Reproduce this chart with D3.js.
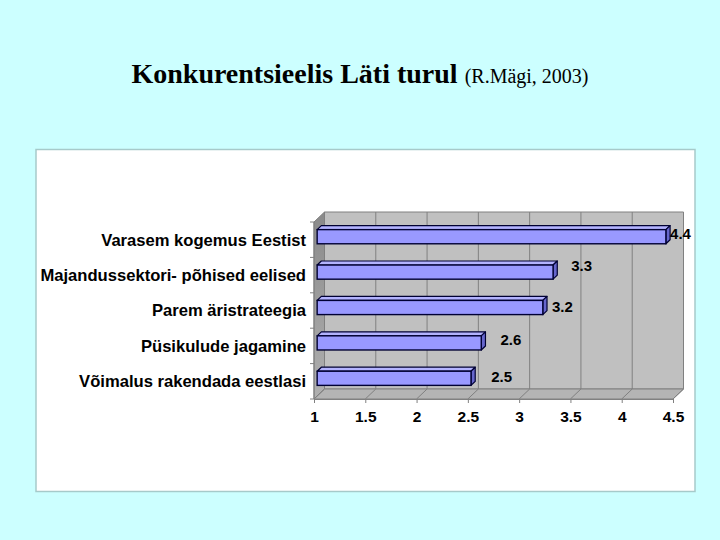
<!DOCTYPE html>
<html><head><meta charset="utf-8">
<script src="https://cdn.jsdelivr.net/npm/d3@7"></script>
<style>
html,body{margin:0;padding:0;background:#CCFFFF;}
svg{display:block;}
</style></head>
<body>
<script>
const categories = ["Varasem kogemus Eestist","Majandussektori- põhised eelised","Parem äristrateegia","Püsikulude jagamine","Võimalus rakendada eestlasi"];
const values = [4.4, 3.3, 3.2, 2.6, 2.5];
const valueLabels = ["4.4","3.3","3.2","2.6","2.5"];
const xTicks = [1, 1.5, 2, 2.5, 3, 3.5, 4, 4.5];
const titleMain = "Konkurentsieelis Läti turul";
const titleSub = "(R.Mägi, 2003)";

const W = 720, H = 540;
const svg = d3.select("body").append("svg").attr("width", W).attr("height", H);
svg.append("rect").attr("width", W).attr("height", H).attr("fill", "#CCFFFF");

// title
const t = svg.append("text").attr("x", 360).attr("y", 83).attr("text-anchor", "middle")
  .attr("font-family", "'Liberation Serif','Times New Roman',serif").attr("fill", "#000");
t.append("tspan").attr("font-size", 28).attr("font-weight", "bold").text(titleMain + " ");
t.append("tspan").attr("font-size", 20).text(titleSub);

// chart frame
svg.append("rect").attr("x", 36).attr("y", 149.5).attr("width", 659).attr("height", 342)
  .attr("fill", "#fff").attr("stroke", "#A6CACA").attr("stroke-width", 1.5);

const x = d3.scaleLinear().domain([1, 4.5]).range([314, 673]);
const y = d3.scaleBand().domain(categories).range([222, 399]).paddingInner(0.6).paddingOuter(0.3);
const band = d3.scaleBand().domain(categories).range([222, 399]);
const DX = 10.5, DY = -10;
const x0 = x.range()[0], x1 = x.range()[1], yTop = 222, yBot = 399;
const pts = a => a.map(p => p.join(",")).join(" ");

const defs = svg.append("defs");
const lg = defs.append("linearGradient").attr("id", "lw").attr("x1", 0).attr("x2", 0).attr("y1", 0).attr("y2", 1);
lg.append("stop").attr("offset", 0).attr("stop-color", "#8a8a8a");
lg.append("stop").attr("offset", 1).attr("stop-color", "#b0b0b0");

// back wall
svg.append("polygon").attr("points", pts([[x0+DX,yTop+DY],[x1+DX,yTop+DY],[x1+DX,yBot+DY],[x0+DX,yBot+DY]]))
  .attr("fill", "#C0C0C0").attr("stroke", "#808080").attr("stroke-width", 1);
// left wall
svg.append("polygon").attr("points", pts([[x0,yTop],[x0+DX,yTop+DY],[x0+DX,yBot+DY],[x0,yBot]]))
  .attr("fill", "url(#lw)").attr("stroke", "#808080").attr("stroke-width", 1);
// floor
svg.append("polygon").attr("points", pts([[x0,yBot],[x1,yBot],[x1+DX,yBot+DY],[x0+DX,yBot+DY]]))
  .attr("fill", "#B4B4B4").attr("stroke", "#808080").attr("stroke-width", 1);

// gridlines on back wall and floor
xTicks.forEach(v => {
  svg.append("line").attr("x1", x(v)+DX).attr("x2", x(v)+DX).attr("y1", yTop+DY).attr("y2", yBot+DY)
    .attr("stroke", "#808080").attr("stroke-width", 1);
  svg.append("line").attr("x1", x(v)).attr("x2", x(v)+DX).attr("y1", yBot).attr("y2", yBot+DY)
    .attr("stroke", "#808080").attr("stroke-width", 1);
});

// x axis
const xAxis = svg.append("g").attr("transform", `translate(0,${yBot})`)
  .call(d3.axisBottom(x).tickValues(xTicks).tickFormat(d3.format("")).tickSize(4).tickPadding(8));
xAxis.select(".domain").attr("stroke", "#808080");
xAxis.selectAll(".tick line").attr("stroke", "#808080");
xAxis.selectAll("text").attr("font-family", "'Liberation Sans',Arial,sans-serif").attr("font-weight", "bold")
  .attr("font-size", 15.5).attr("fill", "#000");

// y axis ticks (band boundaries)
const bounds = categories.map(c => band(c)).concat([yBot]);
bounds.forEach(b => {
  svg.append("line").attr("x1", x0-4).attr("x2", x0).attr("y1", b).attr("y2", b).attr("stroke", "#808080");
});
svg.append("line").attr("x1", x0).attr("x2", x0).attr("y1", yTop).attr("y2", yBot).attr("stroke", "#808080");

// category labels
svg.append("g").selectAll("text").data(categories).join("text")
  .attr("x", 306).attr("y", d => band(d) + band.bandwidth()/2).attr("dy", "0.35em")
  .attr("text-anchor", "end").attr("font-family", "'Liberation Sans',Arial,sans-serif")
  .attr("font-weight", "bold").attr("font-size", 16.6).attr("fill", "#000").text(d => d);

// bars (3D)
const f1 = 0.3, f2 = 0.7;
const data = categories.map((c, i) => ({c, v: values[i], lab: valueLabels[i]}));
const bars = svg.append("g");
data.forEach(d => {
  const xl = x(1) + f1*DX, xr = x(d.v) + f1*DX;
  const yt = y(d.c) + f1*DY, yb = y(d.c) + y.bandwidth() + f1*DY;
  const ddx = (f2-f1)*DX, ddy = (f2-f1)*DY;
  // top face
  bars.append("polygon").attr("points", pts([[xl,yt],[xr,yt],[xr+ddx,yt+ddy],[xl+ddx,yt+ddy]]))
    .attr("fill", "#B3B3FF").attr("stroke", "#000033").attr("stroke-width", 1.2).attr("stroke-linejoin","round");
  // side face
  bars.append("polygon").attr("points", pts([[xr,yt],[xr+ddx,yt+ddy],[xr+ddx,yb+ddy],[xr,yb]]))
    .attr("fill", "#6666CC").attr("stroke", "#000033").attr("stroke-width", 1.2).attr("stroke-linejoin","round");
  // front face
  bars.append("rect").attr("x", xl).attr("y", yt).attr("width", xr-xl).attr("height", yb-yt)
    .attr("fill", "#9999FF").attr("stroke", "#000033").attr("stroke-width", 1.4);
});

// value labels
const labelDx = [0, 14, 5, 15, 16];
const labelDy = [-6, -9, -4, -6, -5];
svg.append("g").selectAll("text").data(data).join("text")
  .attr("x", (d, i) => x(d.v) + f2*DX + labelDx[i])
  .attr("y", (d, i) => y(d.c) + y.bandwidth()/2 + labelDy[i]).attr("dy", "0.35em")
  .attr("font-family", "'Liberation Sans',Arial,sans-serif").attr("font-weight", "bold")
  .attr("font-size", 15).attr("fill", "#000").text(d => d.lab);
</script>
</body></html>
